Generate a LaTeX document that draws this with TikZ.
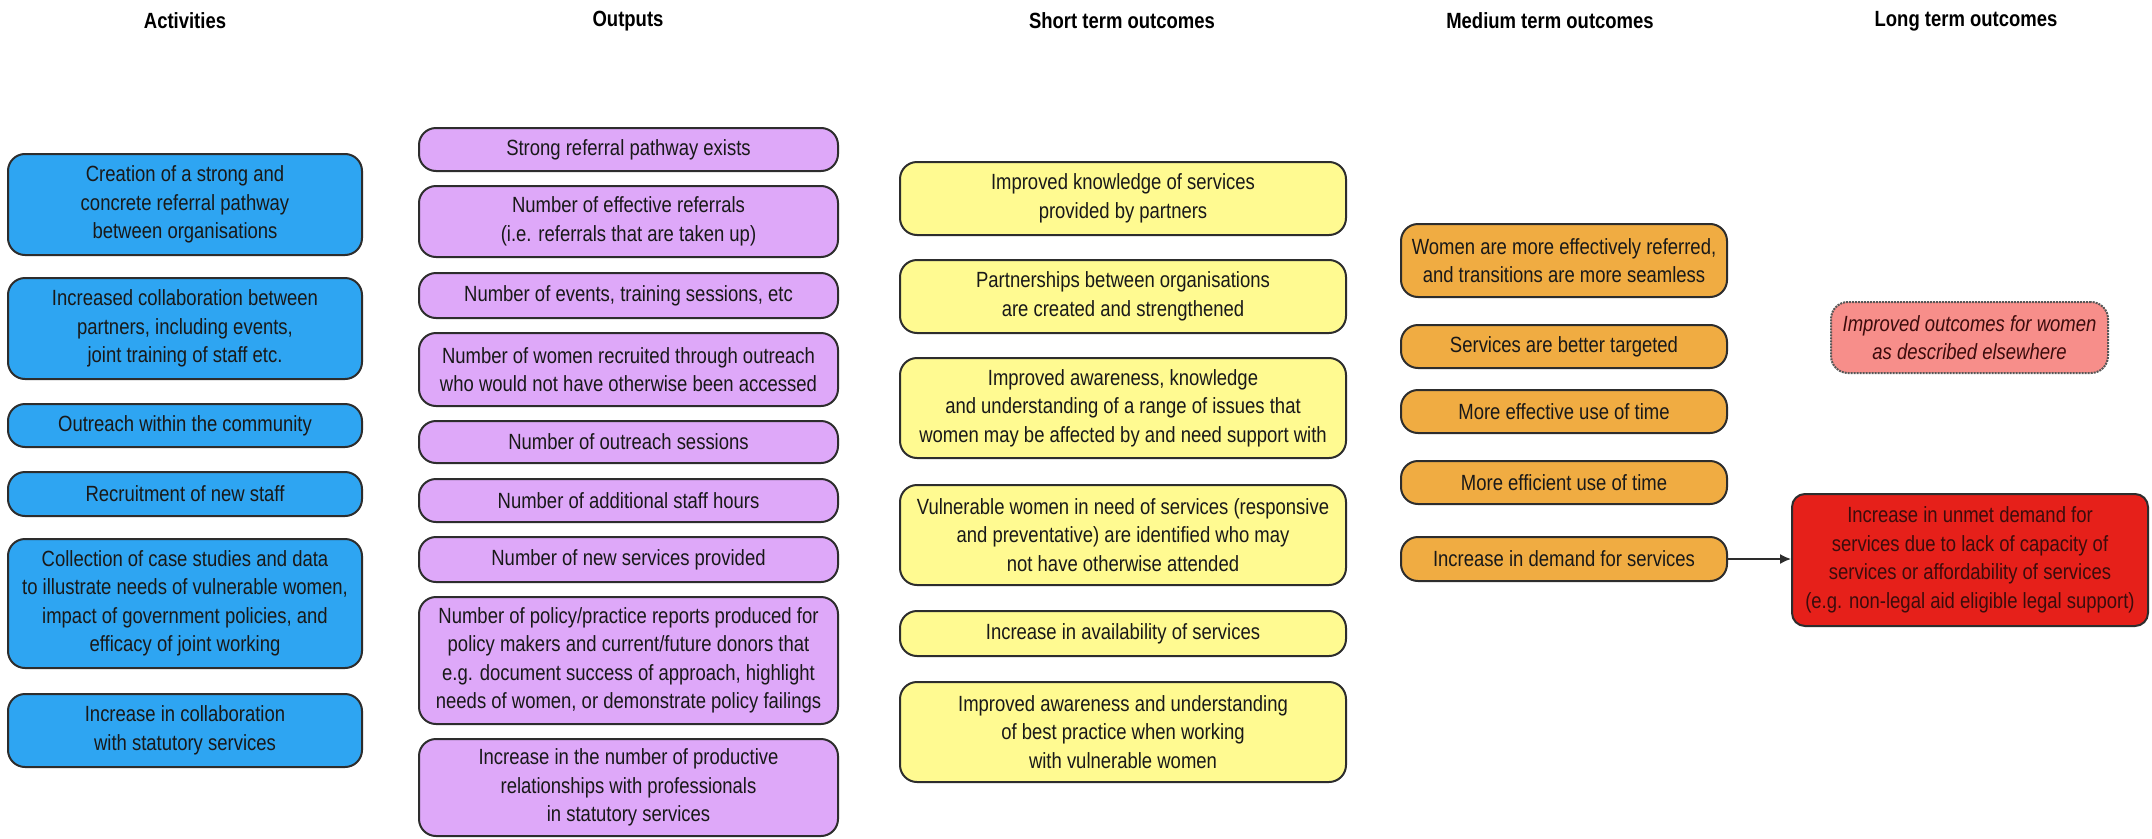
\documentclass[tikz,border=0pt]{standalone}
\usepackage{fontspec}
\setmainfont{Liberation Sans}[FakeStretch=0.84]
\usetikzlibrary{arrows.meta}
\definecolor{actblue}{RGB}{46,165,242}
\definecolor{outpurple}{RGB}{222,168,249}
\definecolor{styellow}{RGB}{255,250,145}
\definecolor{mtorange}{RGB}{240,172,66}
\definecolor{ltpink}{RGB}{247,142,138}
\definecolor{ltred}{RGB}{230,32,26}
\definecolor{edgegray}{RGB}{45,45,45}
\definecolor{txt}{RGB}{25,25,25}
\definecolor{redtxt}{RGB}{60,12,12}
\tikzset{
  box/.style={draw=edgegray, line width=2pt, rounded corners=17pt, align=center,
    text=txt, inner sep=0pt, font=\fontsize{22}{28.5}\selectfont},
  actbox/.style={box, fill=actblue, minimum width=354pt},
  outbox/.style={box, fill=outpurple, minimum width=419pt},
  stbox/.style={box, fill=styellow, minimum width=446pt},
  mtbox/.style={box, fill=mtorange, minimum width=326pt},
  head/.style={font=\fontsize{22}{28.5}\selectfont\bfseries, text=black},
  arr/.style={-{Latex[length=11pt,width=10pt]}, line width=1.6pt, draw=edgegray}
}
\begin{document}
\begin{tikzpicture}[x=1pt,y=-1pt]
\useasboundingbox[fill=white] (0,0) rectangle (2152,838);
% headers
\node[head] (h1) at (185,21) {Activities};
\node[head] (h2) at (628,21) {Outputs};
\node[head] (h3) at (1122,21) {Short term outcomes};
\node[head] (h4) at (1550,21) {Medium term outcomes};
\node[head] (h5) at (1966,21) {Long term outcomes};
% activities
\node[actbox, minimum height=101pt] (a1) at (185,204.5) {Creation of a strong and\\concrete referral pathway\\between organisations};
\node[actbox, minimum height=101pt] (a2) at (185,328.5) {Increased collaboration between\\partners, including events,\\joint training of staff etc.};
\node[actbox, minimum height=43pt] (a3) at (185,425.5) {Outreach within the community};
\node[actbox, minimum height=44pt] (a4) at (185,494) {Recruitment of new staff};
\node[actbox, minimum height=129pt] (a5) at (185,603.5) {Collection of case studies and data\\to illustrate needs of vulnerable women,\\impact of government policies, and\\efficacy of joint working};
\node[actbox, minimum height=73pt] (a6) at (185,730.5) {Increase in collaboration\\with statutory services};
% outputs
\node[outbox, minimum height=43pt] (o1) at (628.5,149.5) {Strong referral pathway exists};
\node[outbox, minimum height=71pt] (o2) at (628.5,221.5) {Number of effective referrals\\(i.e. referrals that are taken up)};
\node[outbox, minimum height=45pt] (o3) at (628.5,295.5) {Number of events, training sessions, etc};
\node[outbox, minimum height=73pt] (o4) at (628.5,369.5) {Number of women recruited through outreach\\who would not have otherwise been accessed};
\node[outbox, minimum height=42pt] (o5) at (628.5,442) {Number of outreach sessions};
\node[outbox, minimum height=43pt] (o6) at (628.5,500.5) {Number of additional staff hours};
\node[outbox, minimum height=45pt] (o7) at (628.5,559.5) {Number of new services provided};
\node[outbox, minimum height=127pt] (o8) at (628.5,660.5) {Number of policy/practice reports produced for\\policy makers and current/future donors that\\e.g. document success of approach, highlight\\needs of women, or demonstrate policy failings};
\node[outbox, minimum height=97pt] (o9) at (628.5,787.5) {Increase in the number of productive\\relationships with professionals\\in statutory services};
% short term
\node[stbox, minimum height=73pt] (s1) at (1123,198.5) {Improved knowledge of services\\provided by partners};
\node[stbox, minimum height=73pt] (s2) at (1123,296.5) {Partnerships between organisations\\are created and strengthened};
\node[stbox, minimum height=100pt] (s3) at (1123,408) {Improved awareness, knowledge\\and understanding of a range of issues that\\women may be affected by and need support with};
\node[stbox, minimum height=100pt] (s4) at (1123,535) {Vulnerable women in need of services (responsive\\and preventative) are identified who may\\not have otherwise attended};
\node[stbox, minimum height=45pt] (s5) at (1123,633.5) {Increase in availability of services};
\node[stbox, minimum height=100pt] (s6) at (1123,732) {Improved awareness and understanding\\of best practice when working\\with vulnerable women};
% medium term
\node[mtbox, minimum height=73pt] (m1) at (1564,260.5) {Women are more effectively referred,\\and transitions are more seamless};
\node[mtbox, minimum height=43pt] (m2) at (1564,346.5) {Services are better targeted};
\node[mtbox, minimum height=43pt] (m3) at (1564,411.5) {More effective use of time};
\node[mtbox, minimum height=43pt] (m4) at (1564,482.5) {More efficient use of time};
\node[mtbox, minimum height=44pt] (m5) at (1564,559) {Increase in demand for services};
% long term
\node[box, fill=ltpink, draw=edgegray!80, densely dotted, text=redtxt, minimum width=277pt, minimum height=71pt, font=\fontsize{22}{28.5}\selectfont\itshape] (l1) at (1969.5,337.5) {Improved outcomes for women\\as described elsewhere};
\node[box, fill=ltred, text=redtxt, rounded corners=13pt, minimum width=356pt, minimum height=132pt] (l2) at (1970,560) {Increase in unmet demand for\\services due to lack of capacity of\\services or affordability of services\\(e.g. non-legal aid eligible legal support)};
% connector
\draw[arr] (m5.east) -- (m5.east -| l2.west);
\end{tikzpicture}
\end{document}
